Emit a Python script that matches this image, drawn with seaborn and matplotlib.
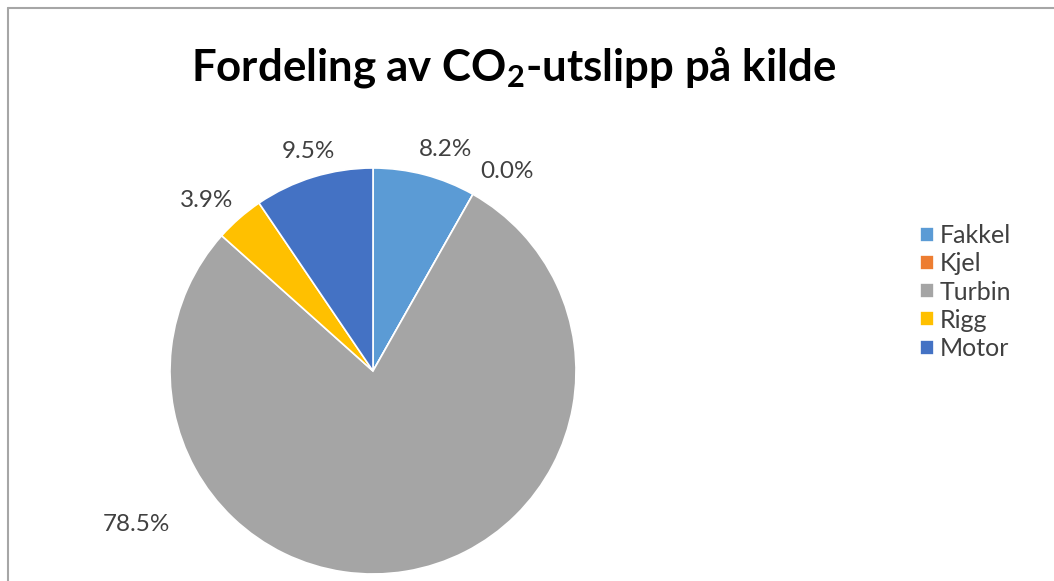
import matplotlib
matplotlib.use("Agg")
import matplotlib.pyplot as plt
import seaborn as sns
import numpy as np

categories = ["Fakkel", "Kjel", "Turbin", "Rigg", "Motor"]
shares = [8.2, 0.0, 78.5, 3.9, 9.5]
label_texts = ["8.2%", "0.0%", "78.5%", "3.9%", "9.5%"]
colors = ["#5B9BD5", "#ED7D31", "#A5A5A5", "#FFC000", "#4472C4"]

sns.set_theme(style="white")
plt.rcParams["font.family"] = ["Lato", "DejaVu Sans"]
plt.rcParams["mathtext.default"] = "regular"

W, H = 1054, 581
fig = plt.figure(figsize=(W / 100, H / 100), dpi=100)
fig.patch.set_facecolor("white")

# chart frame (top and left edges visible)
fig.add_artist(plt.Line2D([7.5 / W, 7.5 / W], [0, 1 - 7.5 / H], transform=fig.transFigure,
                          color="#A6A6A6", lw=1.5))
fig.add_artist(plt.Line2D([7.5 / W, 1], [1 - 7.5 / H, 1 - 7.5 / H], transform=fig.transFigure,
                          color="#A6A6A6", lw=1.5))

# pie axes
cx, cy, R = 373, 371, 203
lim = 1.5
side = 2 * R * lim
ax = fig.add_axes([(cx - side / 2) / W, (H - cy - side / 2) / H, side / W, side / H])
wedges, _ = ax.pie(shares, colors=colors, startangle=90, counterclock=False, radius=1.0,
                   wedgeprops=dict(edgecolor="white", linewidth=1.2))
ax.set_xlim(-lim, lim)
ax.set_ylim(-lim, lim)
ax.set_aspect("equal")
ax.axis("off")

label_pos = [(0.355, 1.089), (0.66, 0.985), (-1.167, -0.754), (-0.818, 0.842), (-0.32, 1.083)]
for txt, (lx, ly) in zip(label_texts, label_pos):
    ax.text(lx, ly, txt, ha="center", va="center", fontsize=17.5, color="#404040")

fig.text(514 / W, 1 - 68 / H, "Fordeling av CO$_2$-utslipp på kilde", ha="center", va="center",
         fontsize=31.5, fontweight="bold", color="black")

leg = fig.legend(wedges, categories, loc="upper left", bbox_to_anchor=(920 / W, 1 - 224 / H),
                 frameon=False, fontsize=18, handlelength=0.55, handleheight=0.55,
                 handletextpad=0.25, labelspacing=0.21, borderpad=0, borderaxespad=0,
                 labelcolor="#404040")

fig.savefig("out.png", dpi=100)
